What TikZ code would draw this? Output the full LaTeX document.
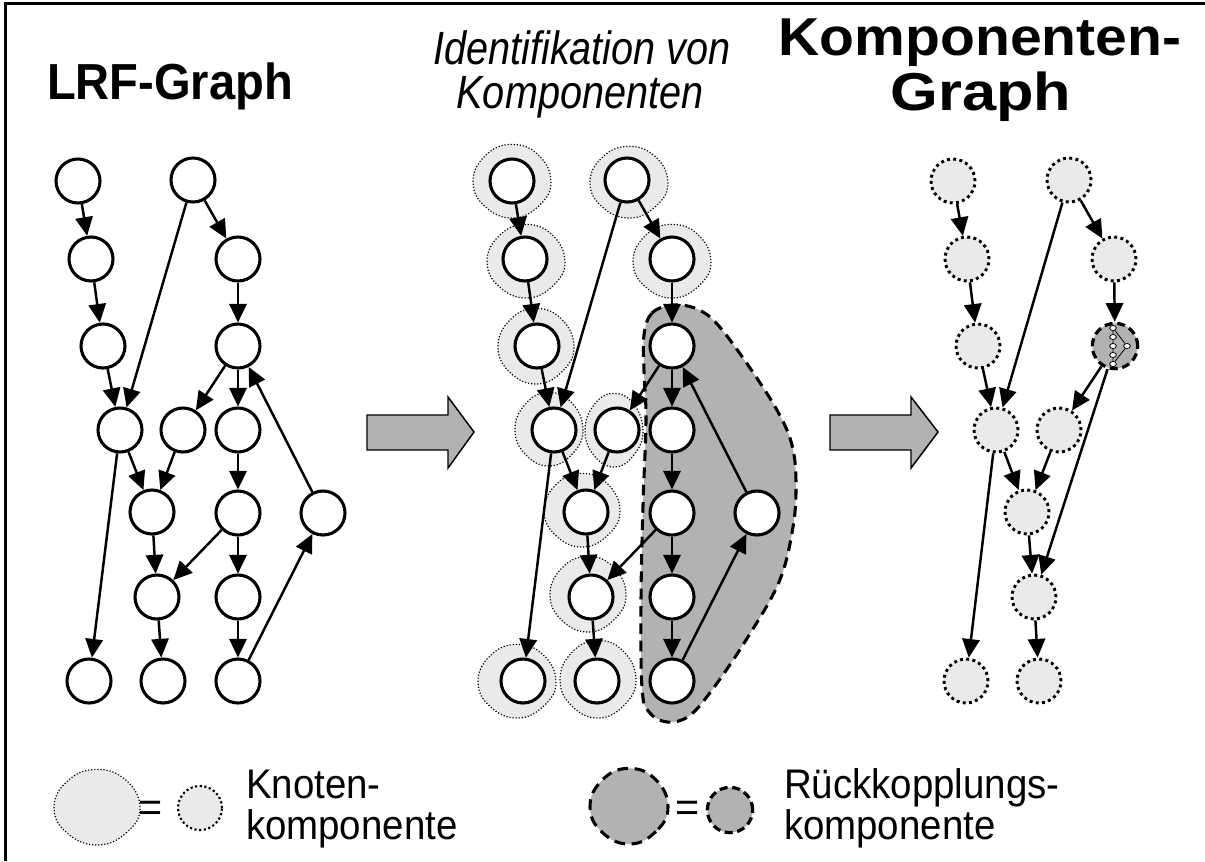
\documentclass[tikz,border=0pt]{standalone}
\usepackage{fontspec}
\setmainfont{Liberation Sans}
\usetikzlibrary{arrows.meta,shapes.geometric}

\definecolor{lightfill}{RGB}{234,234,234}
\definecolor{darkfill}{RGB}{178,178,178}

\newcommand\titleA{\fontsize{38}{42}\selectfont\bfseries}
\newcommand\titleB{\fontsize{35}{40}\selectfont\itshape}
\newcommand\titleC{\fontsize{40}{44}\selectfont\bfseries}
\newcommand\legendfont{\fontsize{31}{36}\selectfont}

% irregular rounded outline: style, centre x, centre y, radius x, radius y
\newcommand\blobshape[5]{%
  \filldraw[#1] plot[smooth cycle, tension=0.75] coordinates {
    ({#2+1.00*#4},{#3+0.02*#5})
    ({#2+0.69*#4},{#3+0.67*#5})
    ({#2+0.02*#4},{#3+1.00*#5})
    ({#2-0.68*#4},{#3+0.70*#5})
    ({#2-1.00*#4},{#3+0.03*#5})
    ({#2-0.70*#4},{#3-0.67*#5})
    ({#2-0.03*#4},{#3-0.99*#5})
    ({#2+0.67*#4},{#3-0.71*#5})
  };}

\tikzset{
  gnode/.style={circle, draw=black, fill=white, line width=2.3pt,
    minimum size=33pt, inner sep=0pt},
  cnode/.style={circle, draw=black, fill=lightfill, line width=2.2pt,
    dash pattern=on 2.2pt off 2.5pt, minimum size=33pt, inner sep=0pt},
  legcnode/.style={cnode, line width=1.6pt, dash pattern=on 1.6pt off 1.9pt},
  fbnode/.style={circle, draw=black, fill=darkfill, line width=2.4pt,
    dash pattern=on 6pt off 3.5pt, minimum size=34pt, inner sep=0pt},
  mininode/.style={ellipse, draw=black, fill=white, line width=0.6pt,
    minimum width=5pt, minimum height=3.8pt, inner sep=0pt},
  miniedge/.style={line width=0.6pt},
  edge/.style={line width=1.85pt, -{Triangle[length=14pt,width=13pt]}},
  lblob/.style={fill=lightfill, draw=black, line width=0.9pt,
    dash pattern=on 0.9pt off 1.4pt},
  dblob/.style={fill=darkfill, draw=black, line width=2.3pt,
    dash pattern=on 8pt off 5pt},
  blockarrow/.style={fill=darkfill, draw=black, line width=1.1pt},
  txt/.style={inner sep=0pt, outer sep=0pt},
}

\begin{document}
\begin{tikzpicture}[x=0.75pt,y=-0.75pt]
\useasboundingbox (0,0) rectangle (1205,861);

% frame
\draw[line width=2.2pt] (5.5,861) -- (5.5,3.5) -- (1205,3.5);

% headings
\node[txt, anchor=base west, font=\titleA] (hA) at (47,99)
  {\scalebox{0.93}[1]{LRF-Graph}};
\node[txt, anchor=base, font=\titleB] (hB1) at (582,64)
  {\scalebox{0.85}[1]{Identifikation von}};
\node[txt, anchor=base, font=\titleB] (hB2) at (580,108)
  {\scalebox{0.85}[1]{Komponenten}};
\node[txt, anchor=base, font=\titleC] (hC1) at (980,55)
  {\scalebox{1.07}[1]{Komponenten-}};
\node[txt, anchor=base, font=\titleC] (hC2) at (981,110)
  {\scalebox{1.15}[1]{Graph}};

% ---------- left: LRF graph ----------
\foreach \n/\x/\y in {A1/78/181, A2/193/180, B1/91/259, B2/238/259,
    C1/103/346, C2/238/346, D1/120/430, D2/183/430, D3/238/430,
    E1/152/512, E2/238/513, E3/323/513, F1/157/597, F2/238/597,
    G1/89/681, G2/163/681, G3/238/681}
  \node[gnode] (L\n) at (\x,\y) {};

% ---------- middle: identified components ----------
% feedback component
\filldraw[dblob] plot[smooth cycle, tension=0.6] coordinates {
  (644,335) (652,313) (673,305) (697,309) (718,325) (750,368) (778,412)
  (792,445) (796,482) (793,527) (779,582) (746,640) (712,690) (689,716)
  (667,722) (649,712) (642,688) (641,600) (643,505) (646,420) (644,372)};
% node components
\blobshape{lblob}{512}{181}{39}{37}
\blobshape{lblob}{629}{182}{39}{36}
\blobshape{lblob}{526}{261}{39}{37}
\blobshape{lblob}{672}{261}{39}{37}
\blobshape{lblob}{536}{346}{38}{38}
\blobshape{lblob}{549}{429}{34}{37}
\blobshape{lblob}{614}{430}{29}{37}
\blobshape{lblob}{582}{510}{38}{37}
\blobshape{lblob}{588}{594}{38}{38}
\blobshape{lblob}{517}{681}{39}{37}
\blobshape{lblob}{598}{679}{38}{39}

\foreach \n/\x/\y in {A1/78/181, A2/193/180, B1/91/259, B2/238/259,
    C1/103/346, C2/238/346, D1/120/430, D2/183/430, D3/238/430,
    E1/152/512, E2/238/513, E3/323/513, F1/157/597, F2/238/597,
    G1/89/681, G2/163/681, G3/238/681}
  \node[gnode] (M\n) at ({\x+434},\y) {};

\foreach \a/\b in {A1/B1, B1/C1, C1/D1, A2/D1, A2/B2, B2/C2, C2/D2,
    C2/D3, E3/C2, D1/E1, D1/G1, D2/E1, D3/E2, E1/F1, E2/F1, E2/F2,
    F1/G2, F2/G3, G3/E3} {
  \draw[edge] (L\a) -- (L\b);
  \draw[edge] (M\a) -- (M\b);
}

% ---------- transition arrows ----------
\filldraw[blockarrow] (367,415) -- (448,415) -- (448,397) -- (474,432)
  -- (448,468) -- (448,450) -- (367,450) -- cycle;
\filldraw[blockarrow] (830,415) -- (911,415) -- (911,397) -- (938,432)
  -- (911,468) -- (911,450) -- (830,450) -- cycle;

% ---------- right: component graph ----------
\foreach \n/\x/\y in {A1/953/181, A2/1069/180, B1/967/259, B2/1114/259,
    C1/978/346, D1/996/430, D2/1059/430, E1/1027/512, F1/1034/597,
    G1/966/681, G2/1039/681}
  \node[cnode] (R\n) at (\x,\y) {};
\node[fbnode] (RFB) at (1115,346) {};

% collapsed feedback loop inside the component
\foreach \i/\y in {1/328, 2/337, 3/346, 4/355, 5/364}
  \node[mininode] (k\i) at (1113,\y) {};
\node[mininode] (k6) at (1127,346) {};
\draw[miniedge] (k1) -- (k2) (k2) -- (k3) (k3) -- (k4) (k4) -- (k5)
  (k1) -- (k6) (k6) -- (k5);

\foreach \a/\b in {A1/B1, B1/C1, C1/D1, A2/D1, A2/B2, B2/FB, FB/D2,
    FB/F1, D1/E1, D2/E1, E1/F1, F1/G2, D1/G1}
  \draw[edge] (R\a) -- (R\b);

% ---------- legend ----------
\blobshape{lblob}{97}{807}{43}{38}
\node[txt, font=\legendfont] (eq1) at (151,811) {=};
\node[legcnode] (lk) at (200,808) {};
\node[txt, anchor=base west, font=\legendfont] (lk1) at (246,798)
  {\scalebox{0.93}[1]{Knoten-}};
\node[txt, anchor=base west, font=\legendfont] (lk2) at (246,839)
  {\scalebox{0.93}[1]{komponente}};

\blobshape{dblob}{629}{806}{39}{38}
\node[txt, font=\legendfont] (eq2) at (688,811) {=};
\node[fbnode] (lr) at (730,810) {};
\node[txt, anchor=base west, font=\legendfont] (lr1) at (784,798)
  {\scalebox{0.93}[1]{Rückkopplungs-}};
\node[txt, anchor=base west, font=\legendfont] (lr2) at (784,839)
  {\scalebox{0.93}[1]{komponente}};
\end{tikzpicture}
\end{document}
